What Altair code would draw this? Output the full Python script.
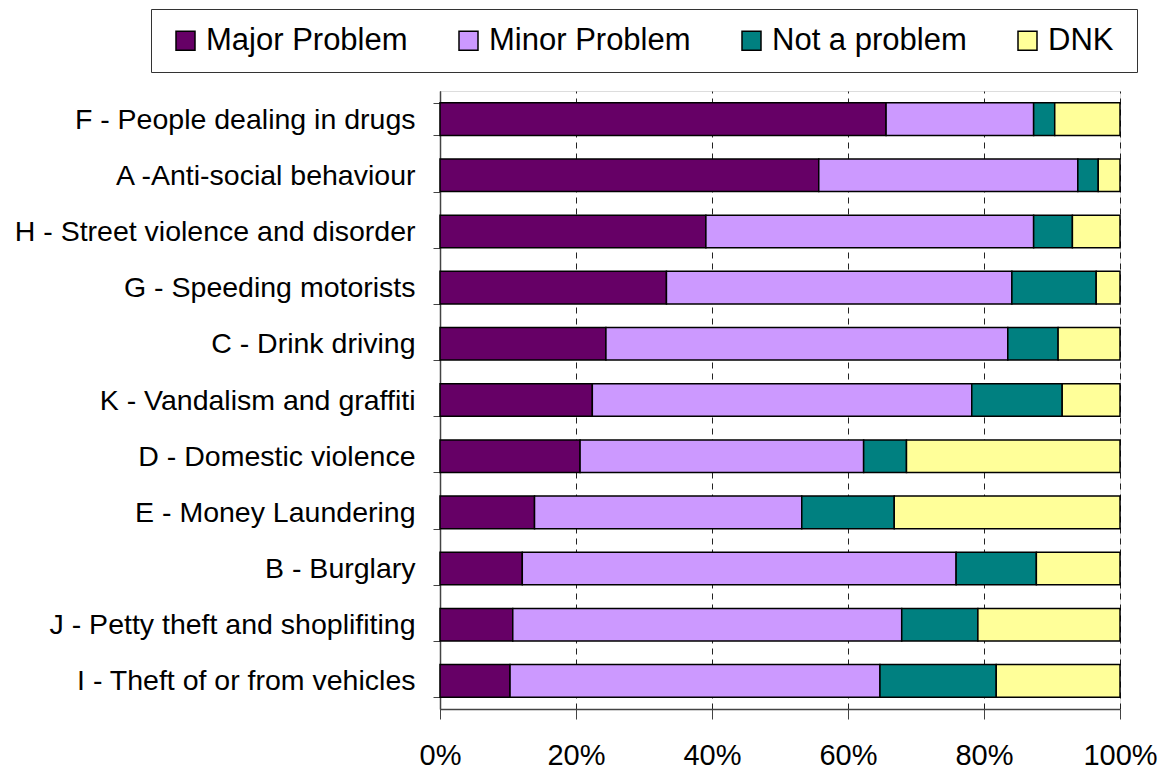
import altair as alt
import pandas as pd

categories = [
    "F - People dealing in drugs",
    "A -Anti-social behaviour",
    "H - Street violence and disorder",
    "G - Speeding motorists",
    "C - Drink driving",
    "K - Vandalism and graffiti",
    "D - Domestic violence",
    "E - Money Laundering",
    "B - Burglary",
    "J - Petty theft and shoplifiting",
    "I - Theft of or from vehicles",
]
series = ["Major Problem", "Minor Problem", "Not a problem", "DNK"]
major = [65.6, 55.7, 39.1, 33.3, 24.4, 22.4, 20.6, 13.9, 12.1, 10.7, 10.3]
minor = [21.7, 38.1, 48.2, 50.8, 59.1, 55.8, 41.7, 39.3, 63.8, 57.2, 54.4]
not_problem = [3.1, 3.0, 5.7, 12.4, 7.4, 13.3, 6.3, 13.6, 11.8, 11.2, 17.1]
dnk = [9.6, 3.2, 7.0, 3.5, 9.1, 8.5, 31.4, 33.2, 12.3, 20.9, 18.2]
colors = ["#660066", "#CC99FF", "#008080", "#FFFF99"]

rows = []
for i, c in enumerate(categories):
    for j, (s, vals) in enumerate(zip(series, [major, minor, not_problem, dnk])):
        rows.append({"category": c, "series": s, "value": vals[i], "order": j})
df = pd.DataFrame(rows)

FONT = "Liberation Sans"

chart = (
    alt.Chart(df)
    .mark_bar(stroke="black", strokeWidth=1.5)
    .encode(
        x=alt.X(
            "value:Q",
            stack="normalize",
            scale=alt.Scale(domain=[0, 1], nice=False),
            axis=alt.Axis(
                format=".0%",
                values=[0, 0.2, 0.4, 0.6, 0.8, 1.0],
                title=None,
                grid=True,
                gridColor="#222222",
                gridDash=[6, 5],
                gridWidth=1,
                domainColor="#444444",
                domainWidth=1.5,
                tickColor="#444444",
                tickSize=10,
                labelFontSize=29,
                labelFont=FONT,
                labelColor="black",
                labelPadding=22,
                labelFlush=False,
                labelOverlap=False,
            ),
        ),
        y=alt.Y(
            "category:N",
            sort=categories,
            scale=alt.Scale(paddingInner=0.42, paddingOuter=0.21),
            axis=alt.Axis(
                title=None,
                tickBand="extent",
                domainColor="#444444",
                domainWidth=1.5,
                tickColor="#444444",
                tickSize=7,
                labelFontSize=28.5,
                labelFont=FONT,
                labelColor="black",
                labelPadding=18,
                labelLimit=600,
            ),
        ),
        color=alt.Color(
            "series:N",
            sort=series,
            scale=alt.Scale(domain=series, range=colors),
            legend=alt.Legend(
                orient="none",
                direction="horizontal",
                legendX=-289,
                legendY=-82,
                title=" ",
                titleOrient="right",
                titlePadding=8,
                titleFontSize=20,
                strokeColor="#333333",
                fillColor="white",
                padding=16,
                symbolType="square",
                symbolSize=361,
                symbolStrokeColor="black",
                symbolStrokeWidth=1.5,
                symbolOpacity=1,
                symbolOffset=3,
                labelFontSize=31,
                labelFont=FONT,
                labelColor="black",
                labelOffset=5,
                columnPadding=42,
                labelLimit=400,
            ),
        ),
        order=alt.Order("order:Q"),
    )
    .properties(
        width=680,
        height=618,
        autosize=alt.AutoSizeParams(type="none"),
        padding={"left": 440, "top": 91, "right": 46, "bottom": 63},
    )
    .configure_view(stroke="#808080", strokeWidth=1.5)
    .configure(font=FONT)
)

chart.save("out.html", embed_options={"renderer": "svg", "actions": False})
